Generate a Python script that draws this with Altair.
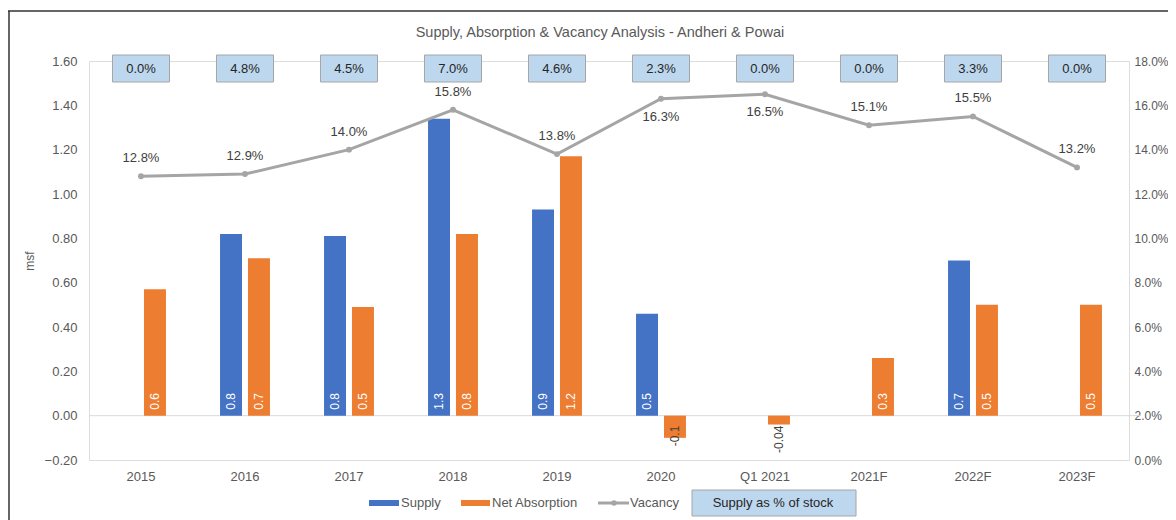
import altair as alt
import pandas as pd

# ---- data ----
title_text = "Supply, Absorption & Vacancy Analysis - Andheri & Powai"
categories = ["2015", "2016", "2017", "2018", "2019", "2020", "Q1 2021", "2021F", "2022F", "2023F"]
supply = [0.0, 0.82, 0.81, 1.34, 0.93, 0.46, 0.0, 0.0, 0.70, 0.0]
supply_labels = ["", "0.8", "0.8", "1.3", "0.9", "0.5", "", "", "0.7", ""]
net_absorption = [0.57, 0.71, 0.49, 0.82, 1.17, -0.10, -0.04, 0.26, 0.50, 0.50]
net_labels = ["0.6", "0.7", "0.5", "0.8", "1.2", "-0.1", "-0.04", "0.3", "0.5", "0.5"]
vacancy = [0.128, 0.129, 0.140, 0.158, 0.138, 0.163, 0.165, 0.151, 0.155, 0.132]
vacancy_label_side = ["above", "above", "above", "above", "above", "below", "below", "above", "above", "above"]
supply_pct_stock = ["0.0%", "4.8%", "4.5%", "7.0%", "4.6%", "2.3%", "0.0%", "0.0%", "3.3%", "0.0%"]
left_ticks = [-0.2, 0.0, 0.2, 0.4, 0.6, 0.8, 1.0, 1.2, 1.4, 1.6]
right_ticks = [0.0, 0.02, 0.04, 0.06, 0.08, 0.10, 0.12, 0.14, 0.16, 0.18]

SERIES = ["Supply", "Net Absorption"]
BLUE, ORANGE, GREY = "#4472C4", "#ED7D31", "#A5A5A5"
BOXFILL, BOXLINE = "#BDD7EE", "#A6A6A6"
TXT = "#595959"
FONT = "Liberation Sans"
FS = 13

W, H = 1040, 399
PAD_L, PAD_T, PAD_R = 81, 53, 39
PAD_B = 60

bars_df = pd.DataFrame({
    "cat": categories * 2,
    "series": ["Supply"] * len(categories) + ["Net Absorption"] * len(categories),
    "value": supply + net_absorption,
    "label": supply_labels + net_labels,
})
vac_df = pd.DataFrame({"cat": categories, "vacancy": vacancy, "side": vacancy_label_side})
box_df = pd.DataFrame({"cat": categories, "pct": supply_pct_stock})
one = pd.DataFrame({"k": [0]})

xscale = alt.Scale(domain=categories, paddingInner=0.52, paddingOuter=0.26)
xaxis = alt.Axis(title=None, domain=False, ticks=False, labelPadding=10, labelFontSize=FS,
                 labelColor=TXT, labelFont=FONT, labelAngle=0)
X = alt.X("cat:N", sort=categories, scale=xscale, axis=xaxis)
XOFF = alt.XOffset("series:N", sort=SERIES, scale=alt.Scale(domain=SERIES, paddingInner=0.214))

yleft = alt.Scale(domain=[-0.2, 1.6], nice=False, zero=False)
yright = alt.Scale(domain=[0, 0.18], nice=False)

base_bars = alt.Chart(bars_df)

bars = base_bars.mark_bar().encode(
    x=X, xOffset=XOFF,
    y=alt.Y("value:Q", scale=yleft,
            axis=alt.Axis(orient="left", values=left_ticks, format=".2f", title="msf",
                          grid=False, domain=False, ticks=False, labelPadding=12,
                          labelFontSize=FS, labelColor=TXT, labelFont=FONT,
                          titleColor=TXT, titleFont=FONT, titleFontSize=12,
                          titleFontWeight="normal", titlePadding=8)),
    color=alt.Color("series:N", scale=alt.Scale(domain=SERIES, range=[BLUE, ORANGE]), legend=None),
)

zero_line = alt.Chart(one).mark_rule(color="#D9D9D9", strokeWidth=1).encode(
    y=alt.datum(0), x=alt.value(0), x2=alt.value(W + 12)
)

pos_labels = base_bars.transform_filter("datum.label != '' && datum.value > 0").mark_text(
    angle=270, align="left", baseline="middle", dx=6, fontSize=12, color="white", font=FONT
).encode(x=X, xOffset=XOFF, y=alt.datum(0), text="label:N")

neg_labels = base_bars.transform_filter("datum.value < 0").mark_text(
    angle=270, align="right", baseline="middle", dx=-10, fontSize=12, color="#404040", font=FONT
).encode(x=X, xOffset=XOFF, y=alt.datum(0), text="label:N")

# supply as % of stock boxes
boxes = alt.Chart(box_df).mark_bar(width=57, fill=BOXFILL, stroke=BOXLINE, strokeWidth=1).encode(
    x=X, y=alt.value(-6), y2=alt.value(21)
)
box_text = alt.Chart(box_df).mark_text(fontSize=FS, color="#262626", font=FONT, baseline="middle").encode(
    x=X, y=alt.value(8), text="pct:N"
)

# chart title (drawn as text so it stays inside the page)
title = alt.Chart(one).mark_text(text=title_text, fontSize=14.5, color=TXT, font=FONT,
                                 align="center", baseline="middle").encode(
    x=alt.value(W / 2 - 9), y=alt.value(-28))

# legend (manual, Excel style)
LY = 442
leg = []
leg.append(alt.Chart(one).mark_rect(color=BLUE).encode(
    x=alt.value(280), x2=alt.value(310), y=alt.value(LY - 3), y2=alt.value(LY + 3)))
leg.append(alt.Chart(one).mark_text(text="Supply", align="left", baseline="middle", fontSize=FS,
                                    color=TXT, font=FONT).encode(x=alt.value(312), y=alt.value(LY)))
leg.append(alt.Chart(one).mark_rect(color=ORANGE).encode(
    x=alt.value(372), x2=alt.value(401), y=alt.value(LY - 3), y2=alt.value(LY + 3)))
leg.append(alt.Chart(one).mark_text(text="Net Absorption", align="left", baseline="middle", fontSize=FS,
                                    color=TXT, font=FONT).encode(x=alt.value(403), y=alt.value(LY)))
leg.append(alt.Chart(one).mark_rule(color=GREY, strokeWidth=3).encode(
    x=alt.value(509), x2=alt.value(540), y=alt.value(LY)))
leg.append(alt.Chart(one).mark_point(filled=True, color=GREY, size=30, opacity=1).encode(
    x=alt.value(525), y=alt.value(LY)))
leg.append(alt.Chart(one).mark_text(text="Vacancy", align="left", baseline="middle", fontSize=FS,
                                    color=TXT, font=FONT).encode(x=alt.value(541), y=alt.value(LY)))
leg.append(alt.Chart(one).mark_rect(fill=BOXFILL, stroke=BOXLINE, strokeWidth=1).encode(
    x=alt.value(603), x2=alt.value(767), y=alt.value(LY - 13), y2=alt.value(LY + 13)))
leg.append(alt.Chart(one).mark_text(text="Supply as % of stock", align="center", baseline="middle",
                                    fontSize=FS, color="#262626", font=FONT).encode(
    x=alt.value(684), y=alt.value(LY)))

# chart frame (Excel chart border, top and left edges visible)
frame_top = alt.Chart(one).mark_rule(color="#333333", strokeWidth=1.5).encode(
    x=alt.value(-PAD_L), x2=alt.value(W + PAD_R), y=alt.value(-50))
frame_left = alt.Chart(one).mark_rule(color="#333333", strokeWidth=1.5).encode(
    x=alt.value(-PAD_L + 1), y=alt.value(-50), y2=alt.value(H + PAD_B))

left = alt.layer(zero_line, bars, pos_labels, neg_labels, boxes, box_text, title,
                 frame_top, frame_left, *leg)

# vacancy line (right axis)
VY = alt.Y("vacancy:Q", scale=yright,
           axis=alt.Axis(orient="right", values=right_ticks, format=".1%", title=None,
                         grid=False, domain=False, ticks=False, labelPadding=5,
                         labelFontSize=12, labelColor=TXT, labelFont=FONT))
vbase = alt.Chart(vac_df)
vline = vbase.mark_line(color=GREY, strokeWidth=3).encode(x=X, y=VY)
vpts = vbase.mark_point(filled=True, color=GREY, size=35, opacity=1).encode(x=X, y=VY)
vlab_up = vbase.transform_filter("datum.side == 'above'").mark_text(
    dy=-18, fontSize=FS, color="#404040", font=FONT).encode(x=X, y=VY, text=alt.Text("vacancy:Q", format=".1%"))
vlab_dn = vbase.transform_filter("datum.side == 'below'").mark_text(
    dy=18, fontSize=FS, color="#404040", font=FONT).encode(x=X, y=VY, text=alt.Text("vacancy:Q", format=".1%"))
right = alt.layer(vline, vpts, vlab_up, vlab_dn)

chart = alt.layer(left, right).resolve_scale(y="independent").properties(
    width=W, height=H,
    autosize=alt.AutoSizeParams(type="none"),
    padding={"left": PAD_L, "top": PAD_T, "right": PAD_R, "bottom": PAD_B},
).configure_view(stroke=None).configure(background="white")

chart.save("out.html", embed_options={"renderer": "svg", "actions": False})
